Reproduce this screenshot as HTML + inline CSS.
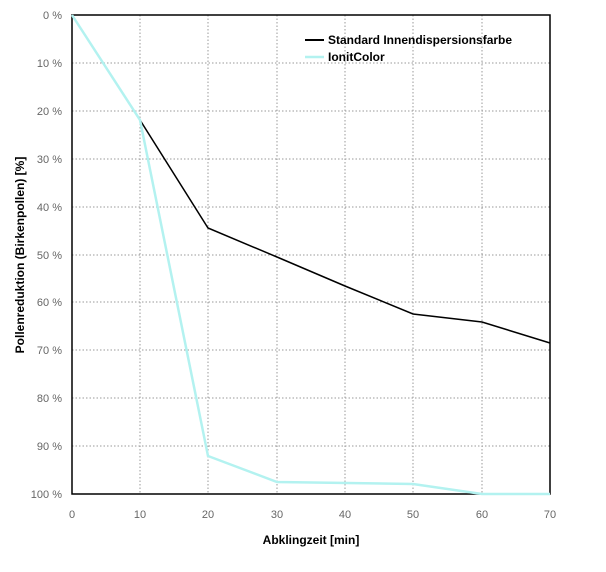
<!DOCTYPE html><html><head><style>body{margin:0;background:#fff}</style></head><body>
<svg width="606" height="567" xmlns="http://www.w3.org/2000/svg" font-family="Liberation Sans, sans-serif">
<g stroke="#999" stroke-dasharray="1.5,2" stroke-width="1">
<line x1="72" x2="550" y1="63" y2="63"/><line x1="72" x2="550" y1="111" y2="111"/><line x1="72" x2="550" y1="159" y2="159"/><line x1="72" x2="550" y1="207" y2="207"/><line x1="72" x2="550" y1="255" y2="255"/><line x1="72" x2="550" y1="302" y2="302"/><line x1="72" x2="550" y1="350" y2="350"/><line x1="72" x2="550" y1="398" y2="398"/><line x1="72" x2="550" y1="446" y2="446"/>
<line x1="140" x2="140" y1="15" y2="494"/><line x1="208" x2="208" y1="15" y2="494"/><line x1="277" x2="277" y1="15" y2="494"/><line x1="345" x2="345" y1="15" y2="494"/><line x1="413" x2="413" y1="15" y2="494"/><line x1="482" x2="482" y1="15" y2="494"/>
</g>
<rect x="72" y="15" width="478" height="479" fill="none" stroke="#000" stroke-width="1.5"/>
<polyline fill="none" stroke="#000" stroke-width="1.5" points="72,15 140,120 208,228 277,257 345,286 413,314 482,322 550,343"/>
<polyline fill="none" stroke="#b3f2f0" stroke-width="2.5" points="72,15 140,120 208,456 277,482 413,484 482,494 550,494"/>
<g font-size="11" fill="#666" text-anchor="end">
<text x="62" y="19">0 %</text><text x="62" y="67">10 %</text><text x="62" y="115">20 %</text><text x="62" y="163">30 %</text><text x="62" y="211">40 %</text><text x="62" y="259">50 %</text><text x="62" y="306">60 %</text><text x="62" y="354">70 %</text><text x="62" y="402">80 %</text><text x="62" y="450">90 %</text><text x="62" y="498">100 %</text>
</g>
<g font-size="11" fill="#666" text-anchor="middle">
<text x="72" y="518">0</text><text x="140" y="518">10</text><text x="208" y="518">20</text><text x="277" y="518">30</text><text x="345" y="518">40</text><text x="413" y="518">50</text><text x="482" y="518">60</text><text x="550" y="518">70</text>
</g>
<text x="311" y="544" font-size="12" font-weight="bold" text-anchor="middle">Abklingzeit [min]</text>
<text transform="translate(24,255) rotate(-90)" font-size="12" font-weight="bold" text-anchor="middle">Pollenreduktion (Birkenpollen) [%]</text>
<line x1="305" x2="324" y1="40" y2="40" stroke="#000" stroke-width="2"/>
<line x1="305" x2="324" y1="57" y2="57" stroke="#b3f2f0" stroke-width="2.5"/>
<text x="328" y="44" font-size="12" font-weight="bold">Standard Innendispersionsfarbe</text>
<text x="328" y="61" font-size="12" font-weight="bold">IonitColor</text>
</svg></body></html>
